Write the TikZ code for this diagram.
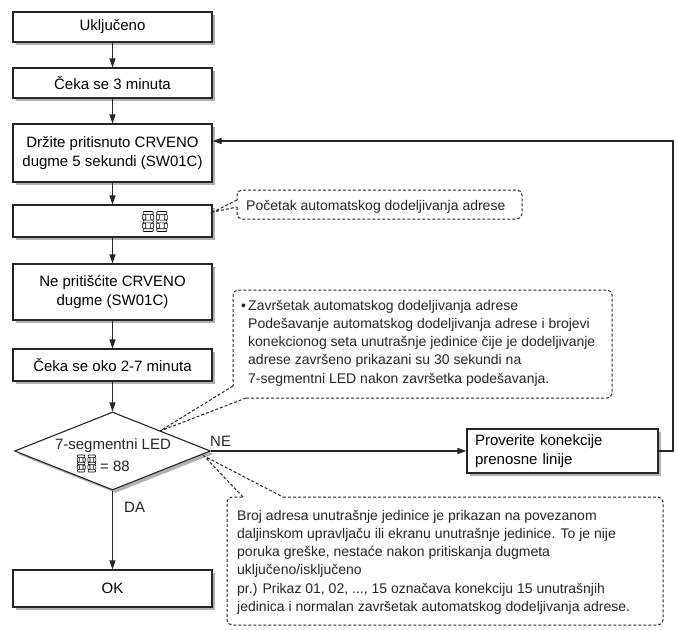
\documentclass[tikz,border=0pt]{standalone}
\usepackage{fontspec}
\setmainfont{Liberation Sans}
\usetikzlibrary{shapes.geometric,shadows,arrows.meta}
\newcommand\boxfs{\fontsize{15}{19}\selectfont}
\newcommand\callfs{\fontsize{14}{18.3}\selectfont}
% one seven-segment "8": top-left x, top-left y, width, height
\newcommand\segdigit[4]{%
  \begin{scope}[shift={(#1,#2)}, x=#3pt/10, y=-#4pt/20]
    \foreach \sgr in {{(0.4,0) rectangle (9.6,2.8)},{(0.4,8.6) rectangle (9.6,11.4)},
      {(0.4,17.2) rectangle (9.6,20)},{(0,3.1) rectangle (2.8,8.3)},
      {(7.2,3.1) rectangle (10,8.3)},{(0,11.7) rectangle (2.8,16.9)},
      {(7.2,11.7) rectangle (10,16.9)}}
      \draw[line width=0.6pt, draw=black, rounded corners=0.7pt] \sgr;
  \end{scope}}
% two digits: centre x, centre y, digit width, digit height
\newcommand\segpair[4]{%
  \pgfmathsetmacro\sgxa{#1-#3-1.3}%
  \pgfmathsetmacro\sgxb{#1+1.3}%
  \pgfmathsetmacro\sgy{#2-#4/2}%
  \segdigit{\sgxa}{\sgy}{#3}{#4}%
  \segdigit{\sgxb}{\sgy}{#3}{#4}}
\begin{document}
\begin{tikzpicture}[x=1pt,y=-1pt,
  box/.style={draw=black!85, line width=1.1pt, fill=white, minimum width=199pt,
    align=center, font=\boxfs, inner sep=2pt,
    drop shadow={shadow xshift=3pt, shadow yshift=-3pt, fill=black!30, opacity=1}},
  dia/.style={diamond, draw=black!85, line width=1.1pt, fill=white, aspect=2.5,
    minimum width=196pt, minimum height=78pt, inner sep=0pt,
    drop shadow={shadow xshift=3pt, shadow yshift=-3pt, fill=black!30, opacity=1}},
  arr/.style={line width=1.1pt, draw=black!85, -{Triangle[length=9pt,width=6pt]}},
  call/.style={line width=1pt, draw=black!85, dash pattern=on 3pt off 2pt},
  ctext/.style={font=\callfs, anchor=base west, inner sep=0pt, text=black!85},
  lbl/.style={font=\boxfs, anchor=base west, inner sep=0pt, text=black!85}]
\useasboundingbox (0,0) rectangle (677,630);
\fill[white] (0,0) rectangle (677,630);

% main column
\node[box, minimum height=30pt] (b1) at (112.5,27) {Uključeno};
\node[box, minimum height=30pt] (b2) at (112.5,83) {Čeka se 3 minuta};
\node[box, minimum height=58pt] (b3) at (112.5,153) {Držite pritisnuto CRVENO\\dugme 5 sekundi (SW01C)};
\node[box, minimum height=32pt] (b4) at (112.5,221) {};
\segpair{155}{221.5}{11}{20}
\node[box, minimum height=56pt] (b5) at (112.5,292) {Ne pritišćite CRVENO\\dugme (SW01C)};
\node[box, minimum height=32pt] (b6) at (112.5,365) {Čeka se oko 2-7 minuta};
\node[dia] (d) at (112.5,451) {};
\node[lbl, anchor=base] (dt1) at (113,449) {7-segmentni LED};
\segpair{86.5}{463.5}{8}{17}
\node[lbl] (dt2) at (100,471) {= 88};
\node[box, minimum height=37pt] (ok) at (112.5,588.5) {OK};
\node[box, minimum width=191pt, minimum height=44pt, text width=175pt, align=left,
  inner xsep=8pt] (pr) at (562.5,451) {Proverite konekcije\\prenosne linije};

% connectors
\draw[arr] (b1) -- (b2);
\draw[arr] (b2) -- (b3);
\draw[arr] (b3) -- (b4);
\draw[arr] (b4) -- (b5);
\draw[arr] (b5) -- (b6);
\draw[arr] (b6) -- (d.north);
\draw[arr] (d.south) -- (ok);
\draw[arr] (d.east) -- (pr.west);
\coordinate (fb) at (673,141);
\draw[arr] (pr.east) -| (fb) -- (b3.east |- fb);
\node[lbl] (da) at (124,512) {DA};
\node[lbl] (ne) at (210,446) {NE};

% callout 1
\draw[call, rounded corners=5pt] (237,207) -- (237,219) -- (522,219) -- (522,190) -- (237,190) -- (237,200);
\draw[call] (237,200) -- (213,212) -- (237,207);
\node[ctext] (c1) at (246,210) {Početak automatskog dodeljivanja adrese};

% callout 2
\draw[call, rounded corners=5pt] (246,398) -- (612,398) -- (612,290) -- (233,290) -- (233,386);
\draw[call] (233,386) -- (160,431) -- (246,398);
\node[ctext] (c2b) at (241,310) {•};
\node[ctext] (c2l1) at (248,310) {Završetak automatskog dodeljivanja adrese};
\node[ctext] (c2l2) at (248,328.3) {Podešavanje automatskog dodeljivanja adrese i brojevi};
\node[ctext] (c2l3) at (248,346.6) {konekcionog seta unutrašnje jedinice čije je dodeljivanje};
\node[ctext] (c2l4) at (248,364.9) {adrese završeno prikazani su 30 sekundi na};
\node[ctext] (c2l5) at (248,383.2) {7-segmentni LED nakon završetka podešavanja.};

% callout 3
\draw[call, rounded corners=5pt] (283,497) -- (663,497) -- (663,625) -- (227,625) -- (227,497) -- (243,497);
\draw[call] (243,497) -- (204,456) -- (283,497);
\node[ctext] (c3l1) at (237,520) {Broj adresa unutrašnje jedinice je prikazan na povezanom};
\node[ctext] (c3l2) at (237,538.3) {daljinskom upravljaču ili ekranu unutrašnje jedinice. To je nije};
\node[ctext] (c3l3) at (237,556.6) {poruka greške, nestaće nakon pritiskanja dugmeta};
\node[ctext] (c3l4) at (237,574.9) {uključeno/isključeno};
\node[ctext] (c3l5) at (237,593.2) {pr.) Prikaz 01, 02, ..., 15 označava konekciju 15 unutrašnjih};
\node[ctext] (c3l6) at (237,611.5) {jedinica i normalan završetak automatskog dodeljivanja adrese.};
\end{tikzpicture}
\end{document}
